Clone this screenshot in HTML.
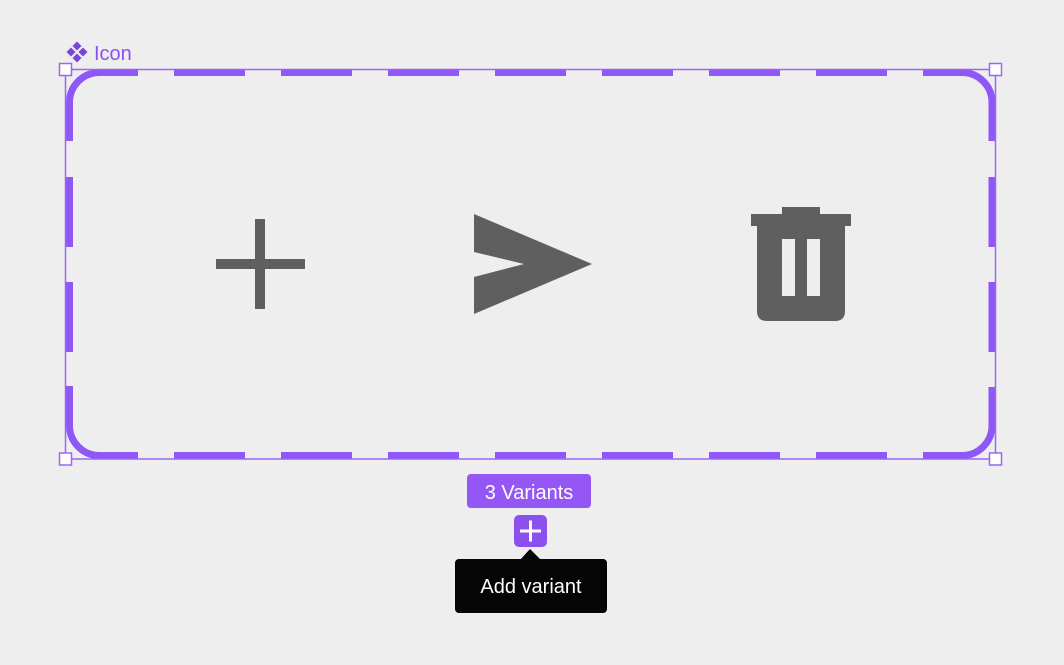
<!DOCTYPE html>
<html><head><style>
body{margin:0;width:1064px;height:660px;background:#eeeeee;overflow:hidden;font-family:"Liberation Sans",sans-serif;}
</style></head><body>
<svg width="1064" height="660" viewBox="0 0 1064 660" xmlns="http://www.w3.org/2000/svg">
<rect x="69.5" y="72.5" width="922.5" height="383" rx="30" fill="none" stroke="#8f57f5" stroke-width="7"/>
<g fill="#eeeeee">
<rect x="138" y="66" width="36" height="14"/><rect x="245" y="66" width="36" height="14"/><rect x="352" y="66" width="36" height="14"/><rect x="459" y="66" width="36" height="14"/><rect x="566" y="66" width="36" height="14"/><rect x="673" y="66" width="36" height="14"/><rect x="780" y="66" width="36" height="14"/><rect x="887" y="66" width="36" height="14"/>
<rect x="138" y="449" width="36" height="14"/><rect x="245" y="449" width="36" height="14"/><rect x="352" y="449" width="36" height="14"/><rect x="459" y="449" width="36" height="14"/><rect x="566" y="449" width="36" height="14"/><rect x="673" y="449" width="36" height="14"/><rect x="780" y="449" width="36" height="14"/><rect x="887" y="449" width="36" height="14"/>
<rect x="62" y="141" width="14" height="36"/><rect x="62" y="247" width="14" height="35"/><rect x="62" y="352" width="14" height="34"/>
<rect x="985" y="141" width="14" height="36"/><rect x="985" y="247" width="14" height="35"/><rect x="985" y="352" width="14" height="35"/>
</g>
<rect x="65.5" y="69.5" width="930" height="389.5" fill="none" stroke="#9a66f7" stroke-width="1.5"/>
<g fill="#fff" stroke="#9a66f7" stroke-width="1.5">
<rect x="59.5" y="63.5" width="12" height="12"/><rect x="989.5" y="63.5" width="12" height="12"/>
<rect x="59.5" y="453" width="12" height="12"/><rect x="989.5" y="453" width="12" height="12"/>
</g>
<g fill="#7a45dc">
<polygon points="77,41.5 81.5,46 77,50.5 72.5,46"/>
<polygon points="77,53.5 81.5,58 77,62.5 72.5,58"/>
<polygon points="71,47.5 75.5,52 71,56.5 66.5,52"/>
<polygon points="83,47.5 87.5,52 83,56.5 78.5,52"/>
</g>
<text x="94" y="60" font-size="20" fill="#8a52f0" font-family="Liberation Sans, sans-serif">Icon</text>
<g fill="#5f5f5f">
<rect x="216" y="259" width="89" height="10"/>
<rect x="255" y="219" width="10" height="90"/>
<polygon points="474,214 592,264 474,314 474,277 524,264 474,252"/>
<rect x="782" y="207" width="38" height="9"/>
<rect x="751" y="214" width="100" height="12"/>
<path d="M757 225 H845 V311 Q845 321 835 321 H767 Q757 321 757 311 Z"/>
</g>
<g fill="#eeeeee"><rect x="782" y="239" width="13" height="57"/><rect x="807" y="239" width="13" height="57"/></g>
<rect x="467" y="474" width="124" height="34" rx="4" fill="#9456f5"/>
<text x="529" y="499" font-size="20" fill="#fff" text-anchor="middle" font-family="Liberation Sans, sans-serif">3 Variants</text>
<rect x="514" y="515" width="33" height="32" rx="5" fill="#8c50ee"/>
<rect x="520" y="529.5" width="21" height="3" fill="#fff"/><rect x="529" y="520.5" width="3" height="21" fill="#fff"/>
<rect x="455" y="559" width="152" height="54" rx="4" fill="#050505"/>
<polygon points="520,560 530,549 541,560" fill="#050505"/>
<text x="531" y="593" font-size="20" fill="#fff" text-anchor="middle" font-family="Liberation Sans, sans-serif">Add variant</text>
</svg>
</body></html>
